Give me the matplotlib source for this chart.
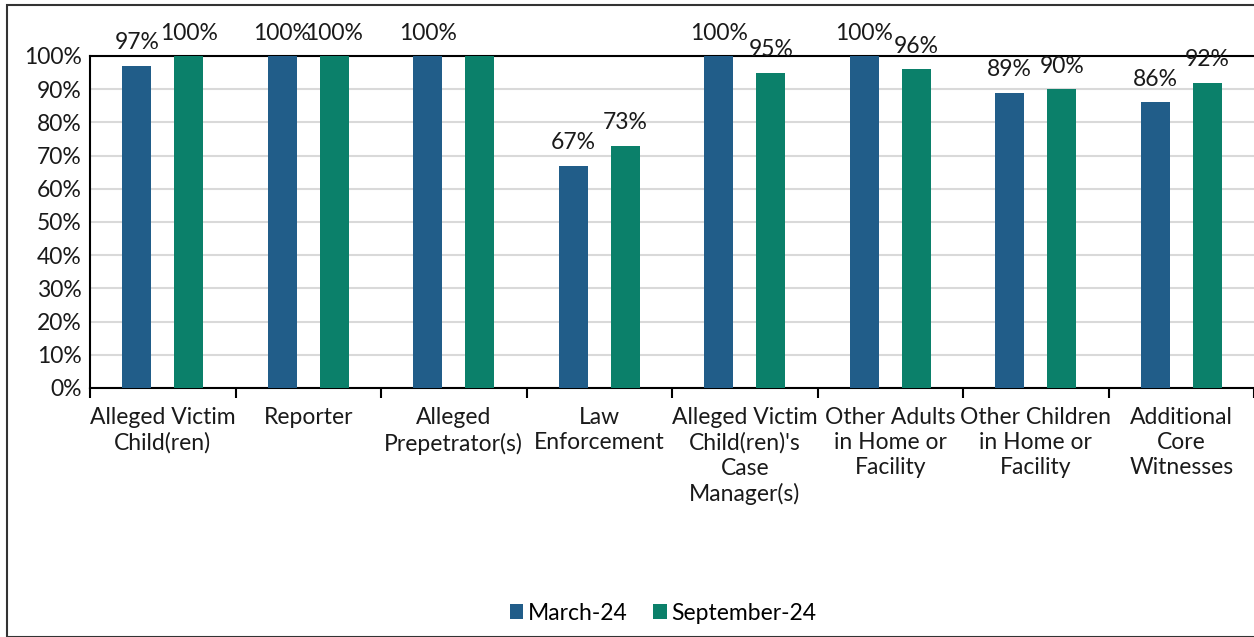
import numpy as np
import matplotlib
matplotlib.use("Agg")
import matplotlib.pyplot as plt
from matplotlib.patches import Rectangle

categories = ["Alleged Victim\nChild(ren)", "Reporter", "Alleged\nPrepetrator(s)",
              "Law\nEnforcement", "Alleged Victim\nChild(ren)'s\nCase\nManager(s)",
              "Other Adults\nin Home or\nFacility", "Other Children\nin Home or\nFacility",
              "Additional\nCore\nWitnesses"]
march = [97, 100, 100, 67, 100, 100, 89, 86]
september = [100, 100, 100, 73, 95, 96, 90, 92]
# the reference shows no label on this green bar
sept_hidden = [2]
series_names = ["March-24", "September-24"]

blue = "#215d89"
green = "#0b806a"
fs = 16.5

plt.rcParams['font.family'] = ['Lato', 'DejaVu Sans']

fig = plt.figure(figsize=(12.54, 6.37), dpi=100)
ax = fig.add_axes([90/1254, 1-388/637, 1164/1254, 332/637])

x = np.arange(len(categories))
w = 0.2
off = 0.179
b1 = ax.bar(x - off, march, w, color=blue, label=series_names[0], zorder=3)
b2 = ax.bar(x + off, september, w, color=green, label=series_names[1], zorder=3)

for i, r in enumerate(b1):
    ax.annotate(f"{march[i]}%", (r.get_x() + r.get_width()/2, r.get_height()),
                xytext=(0, 9), textcoords="offset points", ha="center", va="bottom",
                fontsize=fs, color="#1a1a1a", annotation_clip=False)
for i, r in enumerate(b2):
    if i in sept_hidden:
        continue
    ax.annotate(f"{september[i]}%", (r.get_x() + r.get_width()/2, r.get_height()),
                xytext=(0, 9), textcoords="offset points", ha="center", va="bottom",
                fontsize=fs, color="#1a1a1a", annotation_clip=False)

ax.set_xlim(-0.5, len(categories) - 0.5)
ax.set_ylim(0, 100)
ax.set_yticks(np.arange(0, 101, 10))
ax.set_yticklabels([f"{v}%" for v in range(0, 101, 10)], fontsize=fs, color="#1a1a1a")
ax.yaxis.grid(True, color="#d9d9d9", linewidth=1.5, zorder=0)
ax.tick_params(axis="y", length=0, pad=6)

ax.set_xticks(np.arange(-0.5, len(categories), 1))
ax.set_xticklabels([])
ax.set_xticks(x, minor=True)
ax.set_xticklabels(categories, minor=True, fontsize=fs, color="#1a1a1a", linespacing=1.22)
ax.tick_params(axis="x", which="major", length=7, width=1.5, color="black")
ax.tick_params(axis="x", which="minor", length=0, pad=14)

for s in ["left", "bottom", "top"]:
    ax.spines[s].set_color("black")
    ax.spines[s].set_linewidth(1.5)
ax.spines["right"].set_visible(False)

ax.legend(loc="center", bbox_to_anchor=(663/1254, 1-613/637), bbox_transform=fig.transFigure,
          ncol=2, frameon=False, fontsize=fs, handlelength=0.6, handleheight=0.6,
          handletextpad=0.2, columnspacing=1.1)

fig.patches.append(Rectangle((7/1254, 0), 1, 1-5/637, transform=fig.transFigure,
                             fill=False, edgecolor="#333333", linewidth=1.5))

fig.savefig("out.png", dpi=100)
